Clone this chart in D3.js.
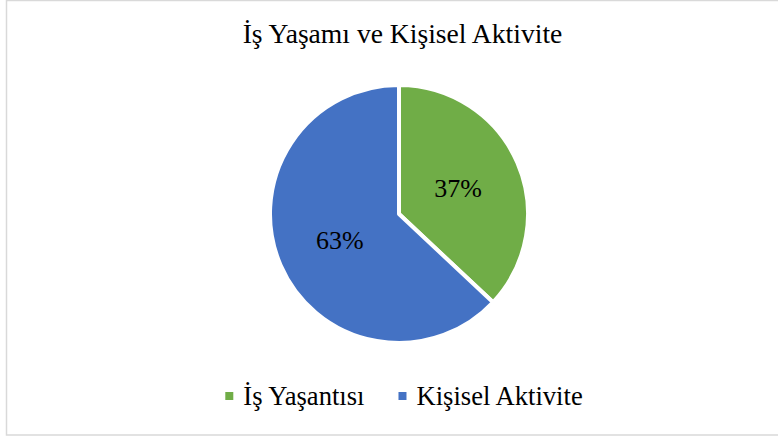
<!DOCTYPE html>
<html>
<head>
<meta charset="utf-8">
<script src="https://cdn.jsdelivr.net/npm/d3@7"></script>
<style>
  html, body { margin: 0; padding: 0; background: #fff; }
  svg { display: block; }
  text { font-family: "Liberation Serif", "Times New Roman", serif; fill: #000; }
</style>
</head>
<body>
<svg id="chart" width="778" height="439"></svg>
<script>
const title = "İş Yaşamı ve Kişisel Aktivite";
const categories = ["İş Yaşantısı", "Kişisel Aktivite"];
const values = [37, 63];
const colors = ["#70AD47", "#4472C4"];

const svg = d3.select("#chart");
const W = 778, H = 439;

// outer border
svg.append("rect")
  .attr("x", 6.5).attr("y", 0.5)
  .attr("width", 790).attr("height", 434.5)
  .attr("fill", "#fff")
  .attr("stroke", "#d9d9d9")
  .attr("stroke-width", 1.5);

// title
svg.append("text")
  .attr("x", 402.5).attr("y", 43)
  .attr("text-anchor", "middle")
  .style("font-size", "27.6px")
  .text(title);

const cx = 399, cy = 214, r = 129;
const data = categories.map((c, i) => ({ cat: c, value: values[i], color: colors[i] }));
const pie = d3.pie().sort(null).value(d => d.value);
const arcs = pie(data);
const arc = d3.arc().innerRadius(0).outerRadius(r);

const g = svg.append("g").attr("transform", `translate(${cx},${cy})`);
g.selectAll("path.slice").data(arcs).enter().append("path")
  .attr("class", "slice")
  .attr("d", arc)
  .attr("fill", d => d.data.color)
  .attr("stroke", "#fff")
  .attr("stroke-width", 4)
  .attr("stroke-linejoin", "round");

const total = d3.sum(values);
g.selectAll("text.lbl").data(arcs).enter().append("text")
  .attr("class", "lbl")
  .attr("transform", d => `translate(${arc.centroid(d)})`)
  .attr("text-anchor", "middle")
  .attr("dy", "0.35em")
  .style("font-size", "26px")
  .text(d => Math.round(d.data.value / total * 100) + "%");

// legend
const legend = svg.append("g");
const sq = 8, gapText = 10, gapItem = 34;
const items = legend.selectAll("g.item").data(data).enter().append("g").attr("class", "item");
items.append("rect")
  .attr("width", sq).attr("height", sq)
  .attr("y", -sq / 2)
  .attr("fill", d => d.color);
items.append("text")
  .attr("x", sq + gapText)
  .attr("dy", "0.33em")
  .style("font-size", "26.6px")
  .text(d => d.cat);
let widths = [];
items.each(function() { widths.push(sq + gapText + d3.select(this).select("text").node().getComputedTextLength()); });
const totalW = d3.sum(widths) + gapItem * (widths.length - 1);
let x0 = 404 - totalW / 2;
items.attr("transform", (d, i) => {
  const x = x0 + d3.sum(widths.slice(0, i)) + gapItem * i;
  return `translate(${x},396)`;
});
</script>
</body>
</html>
